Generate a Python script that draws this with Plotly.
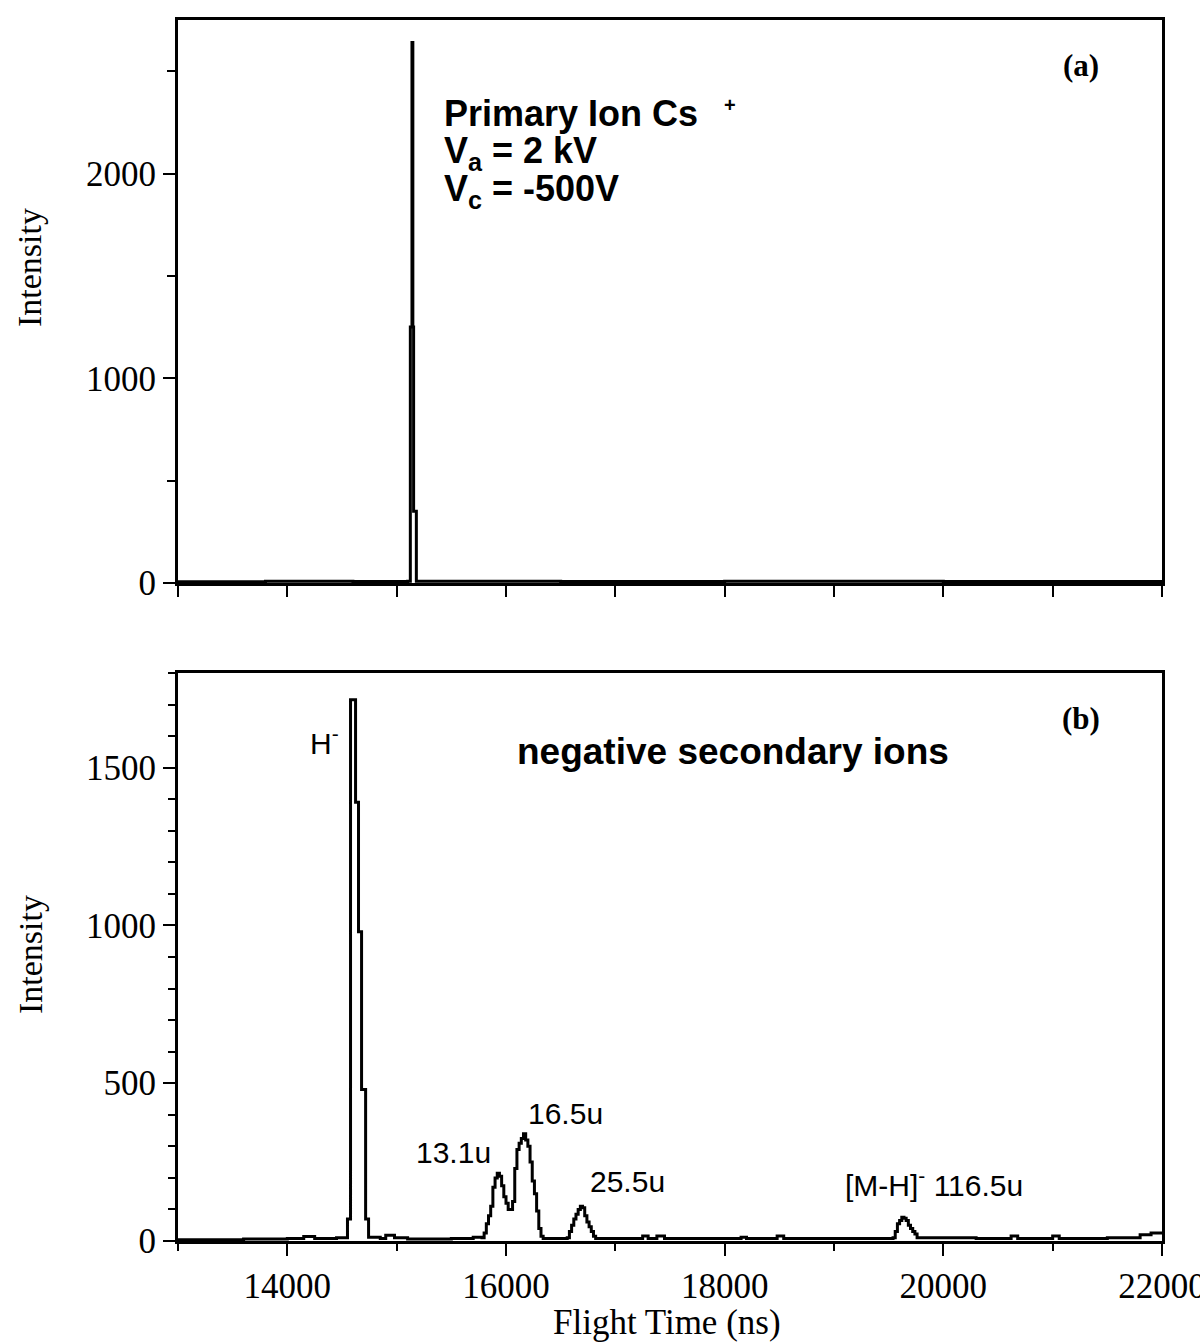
import plotly.graph_objects as go

# (a) primary ion Cs+ spectrum: step vertices (flight time ns, intensity)
t_a = [13000, 13800, 14600, 15100, 15125, 15140, 15148, 15155, 15180, 16500, 18000, 20000, 22000]
i_a = [6, 8, 7, 8, 1250, 2640, 1250, 350, 8, 7, 8, 7, 8]

# (b) negative secondary ions spectrum: step vertices (flight time ns, intensity)
t_b = [13000, 13600, 14000, 14150, 14250, 14450, 14550, 14578, 14624, 14651, 14679, 14716, 14743,
       14850, 14900, 14980, 15100, 15500, 15700, 15780, 15800, 15820, 15840, 15860, 15880, 15900,
       15920, 15940, 15960, 15980, 16000, 16020, 16040, 16060, 16080, 16100, 16120, 16140, 16160,
       16180, 16200, 16220, 16240, 16260, 16280, 16300, 16320, 16340, 16560, 16580, 16600, 16620,
       16640, 16660, 16680, 16700, 16720, 16740, 16760, 16780, 16800, 16820, 17250, 17300, 17380,
       17450, 17800, 18150, 18200, 18480, 18540, 19000, 19540, 19560, 19580, 19600, 19620, 19640,
       19660, 19680, 19700, 19720, 19740, 19760, 20300, 20620, 20680, 21000, 21060, 21500, 21800,
       21900, 22000]
i_b = [4, 6, 8, 14, 8, 10, 70, 1715, 1390, 980, 480, 70, 12,
       8, 18, 10, 6, 8, 12, 10, 25, 55, 80, 110, 170, 200,
       215, 205, 175, 140, 120, 100, 100, 125, 230, 290, 310, 325, 340,
       320, 300, 250, 190, 150, 95, 40, 15, 8, 10, 30, 50, 70,
       85, 100, 110, 105, 80, 60, 45, 30, 15, 8, 16, 8, 16,
       8, 8, 12, 8, 16, 8, 8, 10, 30, 55, 65, 75, 72,
       65, 50, 40, 30, 22, 10, 8, 16, 8, 16, 8, 10, 20,
       25, 22]

x_range = [13000, 22000]
y_range_a = [0, 2750]
y_range_b = [0, 1800]

serif = "Liberation Serif"
sans = "Liberation Sans"

fig = go.Figure()
fig.add_trace(go.Scatter(x=t_a, y=i_a, mode="lines", line=dict(color="black", width=3, shape="hv"),
                         xaxis="x", yaxis="y", showlegend=False))
fig.add_trace(go.Scatter(x=t_b, y=i_b, mode="lines", line=dict(color="black", width=3, shape="hv"),
                         xaxis="x2", yaxis="y2", showlegend=False))

axis_common = dict(showline=True, linecolor="black", linewidth=3, mirror=True,
                   showgrid=False, zeroline=False, ticks="outside", tickcolor="black",
                   tickwidth=2, tickformat="d", ticklabeloverflow="allow", automargin=False,
                   tickfont=dict(family=serif, size=35, color="black"))

fig.update_layout(
    width=1200, height=1343,
    margin=dict(l=178, r=38, t=20, b=102),
    paper_bgcolor="white", plot_bgcolor="white",
    xaxis=dict(**axis_common, domain=[0, 1], anchor="y", range=x_range,
               tick0=14000, dtick=1000, ticklen=11, showticklabels=False),
    yaxis=dict(**axis_common, domain=[0.5389, 1], anchor="x", range=y_range_a,
               tick0=0, dtick=1000, ticklen=12,
               minor=dict(dtick=500, ticklen=8, tickwidth=2, tickcolor="black", ticks="outside")),
    xaxis2=dict(**axis_common, domain=[0, 1], anchor="y2", range=x_range,
                tick0=14000, dtick=2000, ticklen=12,
                minor=dict(dtick=1000, ticklen=7, tickwidth=2, tickcolor="black", ticks="outside")),
    yaxis2=dict(**axis_common, domain=[0, 0.4652], anchor="x2", range=y_range_b,
                tick0=0, dtick=500, ticklen=12,
                minor=dict(dtick=100, ticklen=7, tickwidth=2, tickcolor="black", ticks="outside")),
)

# Axis titles
fig.add_annotation(text="Intensity", xref="paper", yref="paper", x=-0.1504, y=0.7969,
                   textangle=-90, showarrow=False, xanchor="center", yanchor="middle",
                   font=dict(family=serif, size=34, color="black"))
fig.add_annotation(text="Intensity", xref="paper", yref="paper", x=-0.1504, y=0.2342,
                   textangle=-90, showarrow=False, xanchor="center", yanchor="middle",
                   font=dict(family=serif, size=34, color="black"))
fig.add_annotation(text="Flight Time (ns)", xref="paper", yref="paper", x=0.497, y=-0.0665,
                   showarrow=False, xanchor="center", yanchor="middle",
                   font=dict(family=serif, size=35, color="black"))

# Panel (a) labels
bold = dict(family=sans, size=36, color="black")
fig.add_annotation(text="<b>(a)</b>", x=21257, y=2527, xref="x", yref="y", showarrow=False,
                   font=dict(family=serif, size=31, color="black"))
fig.add_annotation(text="<b>Primary Ion Cs</b>", x=15413, y=2293, xref="x", yref="y",
                   showarrow=False, xanchor="left", yanchor="middle", font=bold)
fig.add_annotation(text="<b>+</b>", x=18046, y=2335, xref="x", yref="y",
                   showarrow=False, xanchor="center", yanchor="middle",
                   font=dict(family=sans, size=20, color="black"))
fig.add_annotation(text="<b>V<sub>a</sub> = 2 kV</b>", x=15413, y=2102, xref="x", yref="y",
                   showarrow=False, xanchor="left", yanchor="middle", font=bold)
fig.add_annotation(text="<b>V<sub>c</sub> = -500V</b>", x=15413, y=1917, xref="x", yref="y",
                   showarrow=False, xanchor="left", yanchor="middle", font=bold)

# Panel (b) labels
reg = dict(family=sans, size=30, color="black")
fig.add_annotation(text="<b>(b)</b>", x=21257, y=1655, xref="x2", yref="y2", showarrow=False,
                   font=dict(family=serif, size=31, color="black"))
fig.add_annotation(text="<b>negative secondary ions</b>", x=18073, y=1551, xref="x2", yref="y2",
                   showarrow=False, xanchor="center", yanchor="middle",
                   font=dict(family=sans, size=37, color="black"))
fig.add_annotation(text="H<sup>-</sup>", x=14339, y=1585, xref="x2", yref="y2",
                   showarrow=False, font=reg)
fig.add_annotation(text="13.1u", x=15523, y=282, xref="x2", yref="y2", showarrow=False, font=reg)
fig.add_annotation(text="16.5u", x=16541, y=405, xref="x2", yref="y2", showarrow=False, font=reg)
fig.add_annotation(text="25.5u", x=17110, y=190, xref="x2", yref="y2", showarrow=False, font=reg)
fig.add_annotation(text="[M-H]<sup>-</sup> 116.5u", x=19917, y=184, xref="x2", yref="y2",
                   showarrow=False, font=reg)

fig.write_html("out.html")
